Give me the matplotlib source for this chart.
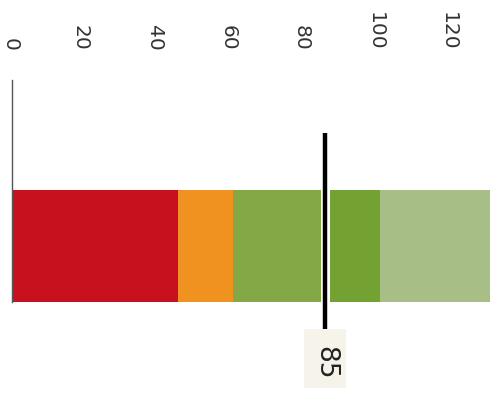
import matplotlib
matplotlib.use("Agg")
import matplotlib.pyplot as plt
from matplotlib.patches import Rectangle

# qualitative bands (start, end) and colours
band_edges = [0, 45, 60, 85, 100, 130]
band_colors = ['#c8111f', '#f0921f', '#84a845', '#74a232', '#a7bf86']
marker_value = 85
tick_values = [0, 20, 40, 60, 80, 100, 120]

fig = plt.figure(figsize=(4.97, 4.15), dpi=100)
ax = fig.add_axes([0, 0, 1, 1])

# bands as one stacked horizontal bar
for i, color in enumerate(band_colors):
    ax.barh(0, band_edges[i + 1] - band_edges[i], left=band_edges[i], height=1.0,
            color=color, edgecolor='none', zorder=1)

# thin baseline at zero
ax.plot([0, 0], [-1.48, 0.5], color='#555555', lw=1.0, zorder=2)

# value label box
box_w = 11.4
ax.add_patch(Rectangle((marker_value - box_w / 2, 0.74), box_w, 0.53,
                       facecolor='#f6f4ea', edgecolor='none', zorder=3))
ax.text(marker_value, 1.045, str(marker_value), rotation=-90, ha='center', va='center',
        fontsize=19, color='#222222', zorder=6)

# marker line with white halo
ax.plot([marker_value, marker_value], [-1.01, 0.6], color='white', lw=6.5,
        solid_capstyle='butt', zorder=4)
ax.plot([marker_value, marker_value], [-1.01, 0.74], color='black', lw=3.2,
        solid_capstyle='butt', zorder=5)

# tick labels along the top, rotated (first one nudged so it stays in frame)
for v in tick_values:
    shift = -0.5 if v == 0 else -1.4
    ax.text(v + shift, -1.74, str(v), rotation=-90, ha='center', va='bottom',
            fontsize=14.5, color='#333333')

ax.set_xlim(-12 / 3.68, 485 / 3.68)
ax.set_ylim(1.509, -2.196)
ax.axis('off')

fig.savefig('out.png', dpi=100, facecolor='white')
